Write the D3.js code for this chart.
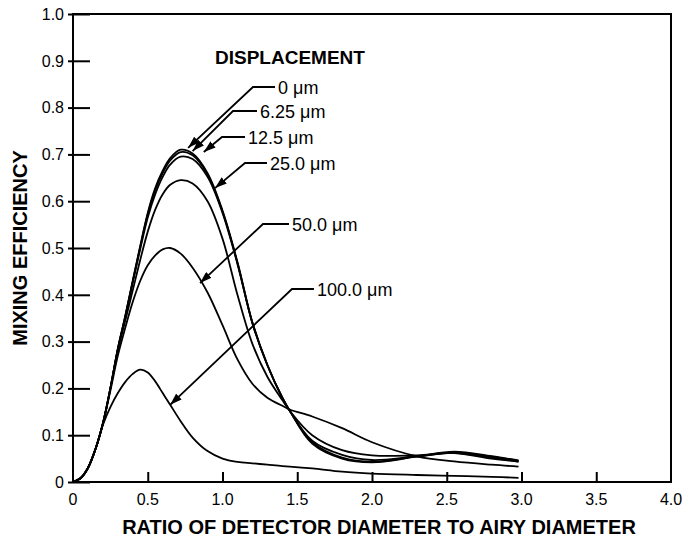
<!DOCTYPE html>
<html>
<head>
<meta charset="UTF-8">
<title>Mixing efficiency</title>
<style>
  body { margin: 0; background: #fff; }
  text { font-family: "Liberation Sans", Arial, sans-serif; fill: #000; }
</style>
</head>
<body>
<svg></svg>
<script src="https://d3js.org/d3.v7.min.js"></script>
<script>
// ratio of detector diameter to airy diameter (shared x samples)
const ratio = [0, 0.05, 0.1, 0.15, 0.2, 0.25, 0.3, 0.35, 0.4, 0.45, 0.5, 0.55, 0.6, 0.65, 0.72, 0.8, 0.9, 1.0,
  1.1, 1.2, 1.3, 1.4, 1.45, 1.6, 1.8, 2.0, 2.3, 2.55, 2.8, 2.98];

// mixing efficiency per displacement
const eff0 = [0, 0.008, 0.03, 0.07, 0.125, 0.2, 0.285, 0.355, 0.43, 0.505, 0.575, 0.628, 0.665, 0.692, 0.71, 0.702, 0.66, 0.58,
  0.47, 0.34, 0.25, 0.18, 0.152, 0.085, 0.052, 0.043, 0.055, 0.065, 0.055, 0.046];
const eff625 = [0, 0.008, 0.03, 0.07, 0.125, 0.2, 0.285, 0.355, 0.43, 0.503, 0.572, 0.624, 0.66, 0.687, 0.705, 0.698, 0.657, 0.578,
  0.468, 0.34, 0.25, 0.18, 0.152, 0.082, 0.05, 0.042, 0.054, 0.063, 0.054, 0.045];
const eff125 = [0, 0.008, 0.03, 0.07, 0.125, 0.2, 0.284, 0.353, 0.427, 0.498, 0.565, 0.615, 0.652, 0.678, 0.695, 0.69, 0.652, 0.575,
  0.466, 0.34, 0.25, 0.18, 0.152, 0.088, 0.058, 0.047, 0.055, 0.062, 0.052, 0.043];
const eff25 = [0, 0.008, 0.03, 0.07, 0.125, 0.2, 0.282, 0.345, 0.41, 0.475, 0.535, 0.582, 0.615, 0.635, 0.645, 0.638, 0.6, 0.52,
  0.4, 0.295, 0.225, 0.175, 0.152, 0.1, 0.068, 0.057, 0.057, 0.062, 0.05, 0.044];
const eff50 = [0, 0.008, 0.03, 0.07, 0.125, 0.195, 0.27, 0.33, 0.385, 0.43, 0.463, 0.484, 0.497, 0.5, 0.488, 0.458, 0.405, 0.335,
  0.262, 0.21, 0.18, 0.163, 0.155, 0.14, 0.115, 0.085, 0.055, 0.044, 0.037, 0.033];
const eff100 = [0, 0.008, 0.03, 0.07, 0.122, 0.16, 0.19, 0.214, 0.231, 0.24, 0.234, 0.215, 0.19, 0.165, 0.13, 0.095, 0.066, 0.05,
  0.043, 0.04, 0.037, 0.034, 0.033, 0.029, 0.022, 0.018, 0.015, 0.013, 0.011, 0.009];

const seriesNames = ["0 μm", "6.25 μm", "12.5 μm", "25.0 μm", "50.0 μm", "100.0 μm"];
const seriesValues = [eff0, eff625, eff125, eff25, eff50, eff100];

const xTicks = [0, 0.5, 1.0, 1.5, 2.0, 2.5, 3.0, 3.5, 4.0];
const xTickLabels = ["0", "0.5", "1.0", "1.5", "2.0", "2.5", "3.0", "3.5", "4.0"];
const yTicks = [0, 0.1, 0.2, 0.3, 0.4, 0.5, 0.6, 0.7, 0.8, 0.9, 1.0];
const yTickLabels = ["0", "0.1", "0.2", "0.3", "0.4", "0.5", "0.6", "0.7", "0.8", "0.9", "1.0"];

// arrow tips sit on the curves (data units)
const arrowTipX = [0.77, 0.8, 0.875, 0.95, 0.85, 0.65];
const arrowTipY = [0.714, 0.707, 0.705, 0.628, 0.425, 0.165];

const width = 686, height = 543;
const margin = {top: 14, right: 15, bottom: 61, left: 73};

const svg = d3.select("svg").attr("width", width).attr("height", height);

const x = d3.scaleLinear().domain([0, 4]).range([margin.left, width - margin.right]);
const y = d3.scaleLinear().domain([0, 1]).range([height - margin.bottom, margin.top]);

// frame
svg.append("rect")
    .attr("x", x(0)).attr("y", y(1))
    .attr("width", x(4) - x(0)).attr("height", y(0) - y(1))
    .attr("fill", "none").attr("stroke", "#000").attr("stroke-width", 2);

// y axis ticks (inward)
const yAxis = g => g
    .attr("transform", `translate(${x(0)},0)`)
    .call(d3.axisRight(y).tickValues(yTicks).tickSize(17).tickFormat(""))
    .call(g => g.select(".domain").remove())
    .call(g => g.selectAll(".tick line").attr("stroke-width", 2).attr("x1", -5));
svg.append("g").call(yAxis);

svg.append("g").selectAll("text")
  .data(yTicks)
  .join("text")
    .attr("x", x(0) - 9)
    .attr("y", d => y(d))
    .attr("dy", "0.36em")
    .attr("text-anchor", "end")
    .attr("font-size", 16)
    .text((d, i) => yTickLabels[i]);

// x axis ticks (inward)
const xAxis = g => g
    .attr("transform", `translate(0,${y(0)})`)
    .call(d3.axisTop(x).tickValues(xTicks.slice(1, -1)).tickSize(10).tickFormat(""))
    .call(g => g.select(".domain").remove())
    .call(g => g.selectAll(".tick line").attr("stroke-width", 2));
svg.append("g").call(xAxis);

svg.append("g").selectAll("text")
  .data(xTicks)
  .join("text")
    .attr("x", d => x(d))
    .attr("y", y(0) + 23)
    .attr("text-anchor", "middle")
    .attr("font-size", 16)
    .text((d, i) => xTickLabels[i]);

// axis titles
svg.append("text")
    .attr("x", (x(0) + x(4)) / 2 + 7)
    .attr("y", 534)
    .attr("text-anchor", "middle")
    .attr("font-size", 20)
    .attr("font-weight", "bold")
    .text("RATIO OF DETECTOR DIAMETER TO AIRY DIAMETER");

svg.append("text")
    .attr("transform", `translate(27,${(y(0) + y(1)) / 2}) rotate(-90)`)
    .attr("text-anchor", "middle")
    .attr("font-size", 20)
    .attr("font-weight", "bold")
    .text("MIXING EFFICIENCY");

// curves
const line = d3.line()
    .x(d => x(d[0]))
    .y(d => y(d[1]))
    .curve(d3.curveCatmullRom.alpha(0.5));

svg.append("g")
    .attr("fill", "none")
    .attr("stroke", "#000")
    .attr("stroke-width", 1.8)
  .selectAll("path")
  .data(seriesValues)
  .join("path")
    .attr("d", vals => line(ratio.map((r, i) => [r, vals[i]])));

// legend annotations
svg.append("defs").append("marker")
    .attr("id", "arrow")
    .attr("viewBox", "0 0 12 8")
    .attr("refX", 12).attr("refY", 4)
    .attr("markerUnits", "userSpaceOnUse")
    .attr("markerWidth", 12).attr("markerHeight", 8)
    .attr("orient", "auto")
  .append("path")
    .attr("d", "M0,0L12,4L0,8Z")
    .attr("fill", "#000");

svg.append("text")
    .attr("x", 215).attr("y", 64)
    .attr("font-size", 19)
    .attr("font-weight", "bold")
    .text("DISPLACEMENT");

// label placement: text left/baseline, stub left end
const labelPos = [
  {tx: 278, ty: 94, sx: 253},
  {tx: 260, ty: 118, sx: 233},
  {tx: 248, ty: 144, sx: 222},
  {tx: 270, ty: 170, sx: 245},
  {tx: 292, ty: 231, sx: 263},
  {tx: 317, ty: 296, sx: 292}
];

const ann = svg.append("g");
seriesNames.forEach((name, i) => {
  const p = labelPos[i];
  const sy = p.ty - 7;
  ann.append("path")
      .attr("d", `M${p.tx - 3},${sy}L${p.sx},${sy}L${x(arrowTipX[i])},${y(arrowTipY[i])}`)
      .attr("fill", "none")
      .attr("stroke", "#000")
      .attr("stroke-width", 1.8)
      .attr("marker-end", "url(#arrow)");
  ann.append("text")
      .attr("x", p.tx).attr("y", p.ty)
      .attr("font-size", 18)
      .text(name);
});
</script>
</body>
</html>
